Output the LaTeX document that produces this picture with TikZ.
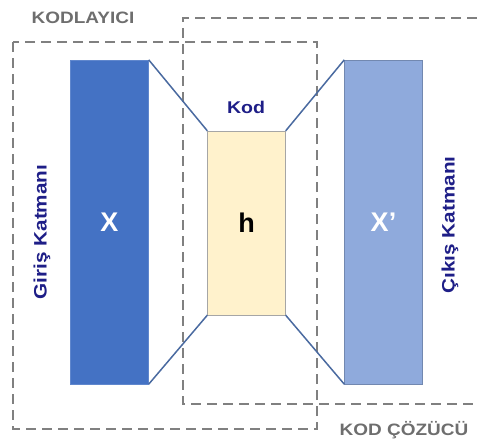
\documentclass[tikz,border=0pt]{standalone}
\usepackage{fontspec}
\setmainfont{Liberation Sans}
\newfontfamily\widefont{Liberation Sans}[FakeStretch=1.15]
\usetikzlibrary{positioning}
\definecolor{inblue}{RGB}{68,114,196}
\definecolor{outblue}{RGB}{143,170,220}
\definecolor{codeyellow}{RGB}{255,242,204}
\definecolor{linkblue}{RGB}{74,106,160}
\definecolor{boxgray}{RGB}{128,128,128}
\definecolor{labelgray}{RGB}{110,110,110}
\definecolor{navy}{RGB}{30,30,135}

\begin{document}
\begin{tikzpicture}[x=1pt,y=-1pt,
  layer/.style={minimum width=78pt, minimum height=324pt, inner sep=0pt},
  part/.style={draw=boxgray, line width=2pt, dash pattern=on 10pt off 6pt},
  link/.style={draw=linkblue, line width=1.5pt},
  partname/.style={text=labelgray, font=\widefont\bfseries\fontsize{16.5}{16.5}\selectfont},
  sidename/.style={text=navy, rotate=90, font=\widefont\bfseries\fontsize{18}{18}\selectfont}]
  \useasboundingbox (0,0) rectangle (477,445);

  % encoder and decoder frames
  \draw[part] (13,42) rectangle (317,429);
  \draw[part] (477,18) -- (183,18) -- (183,404) -- (477,404);
  \node[partname] (enc) at (83,18) {KODLAYICI};
  \node[partname] (dec) at (404,430) {KOD ÇÖZÜCÜ};

  % layers
  \node[layer, fill=inblue, draw=inblue!85!white, text=white,
    font=\bfseries\fontsize{27}{27}\selectfont] (X) at (109.5,222) {X};
  \node[layer, fill=outblue, draw=outblue!80!black, text=white,
    font=\bfseries\fontsize{27}{27}\selectfont] (Xp) at (383.5,222) {X’};
  \node[layer, minimum height=184pt, fill=codeyellow, draw=gray!70,
    font=\bfseries\fontsize{27}{27}\selectfont] (h) at (246.5,223) {h};

  \draw[link] (X.north east) -- (h.north west);
  \draw[link] (X.south east) -- (h.south west);
  \draw[link] (h.north east) -- (Xp.north west);
  \draw[link] (h.south east) -- (Xp.south west);

  \node[text=navy, font=\widefont\bfseries\fontsize{17}{17}\selectfont] (kod) at (246,107) {Kod};
  \node[sidename] (in) at (42,232) {Giriş Katmanı};
  \node[sidename] (out) at (450,225) {Çıkış Katmanı};
\end{tikzpicture}
\end{document}
